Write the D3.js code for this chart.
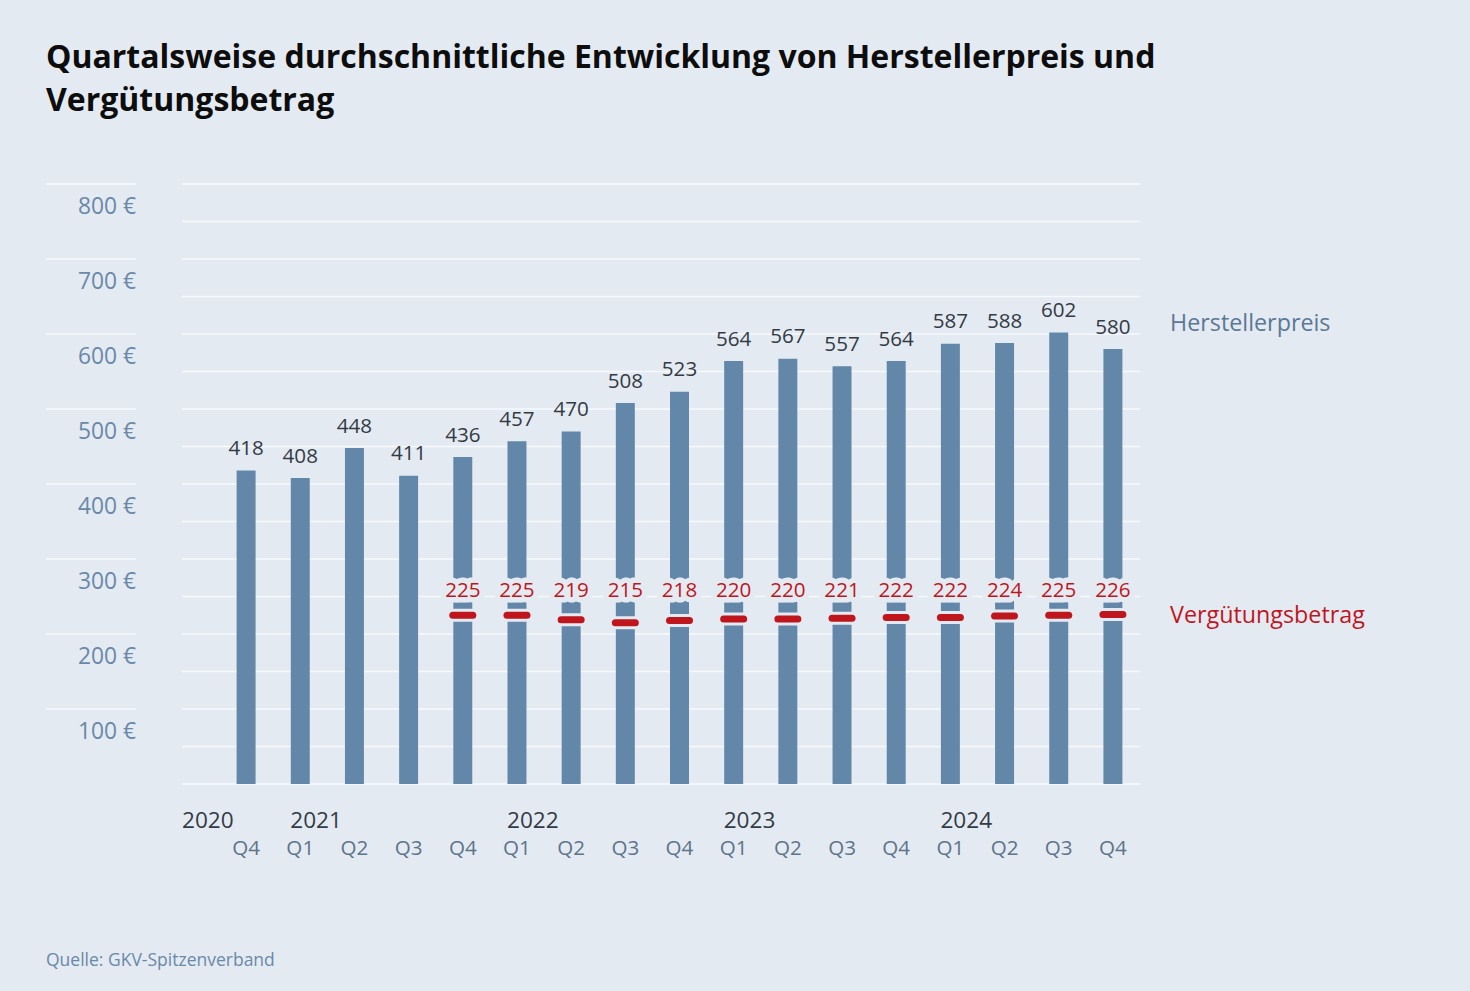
<!DOCTYPE html>
<html>
<head>
<meta charset="utf-8">
<script src="https://cdn.jsdelivr.net/npm/d3@7"></script>
<style>
  html, body { margin: 0; padding: 0; background: #e4eaf2; }
  svg { display: block; font-family: "Open Sans", sans-serif; }
</style>
</head>
<body>
<div id="chart"></div>
<script>
// Data
const quarters = ["Q4", "Q1", "Q2", "Q3", "Q4", "Q1", "Q2", "Q3", "Q4", "Q1", "Q2", "Q3", "Q4", "Q1", "Q2", "Q3", "Q4"];
const years = [["2020", 0], ["2021", 1], ["2022", 5], ["2023", 9], ["2024", 13]];
const herstellerpreis = [418, 408, 448, 411, 436, 457, 470, 508, 523, 564, 567, 557, 564, 587, 588, 602, 580];
const verguetung = [null, null, null, null, 225, 225, 219, 215, 218, 220, 220, 221, 222, 222, 224, 225, 226];
const yTicks = [100, 200, 300, 400, 500, 600, 700, 800];

const width = 1470, height = 991;
const bg = "#e4eaf2";
const barColor = "#6387a8";
const red = "#bf161d";
const axisBlue = "#6a89a8";
const slate = "#5d7489";
const dark = "#333b44";

const svg = d3.select("#chart").append("svg")
    .attr("width", width)
    .attr("height", height);

svg.append("rect").attr("width", width).attr("height", height).attr("fill", bg);

// Title
const title = svg.append("text")
    .attr("x", 46)
    .attr("font-size", "32px")
    .attr("font-weight", 700)
    .attr("fill", "#0d0d0d");
title.append("tspan").attr("x", 46).attr("y", 68).text("Quartalsweise durchschnittliche Entwicklung von Herstellerpreis und");
title.append("tspan").attr("x", 46).attr("y", 111).text("Vergütungsbetrag");

// Scales
const plotLeft = 182, plotRight = 1140;
const y = d3.scaleLinear().domain([0, 800]).range([784, 184]);
const x = d3.scaleBand()
    .domain(d3.range(quarters.length))
    .range([219, plotRight])
    .paddingInner(0.65)
    .paddingOuter(0.325);

// Grid
svg.append("g").selectAll("line")
    .data(d3.range(0, 801, 50))
    .enter().append("line")
    .attr("x1", plotLeft).attr("x2", plotRight)
    .attr("y1", d => y(d)).attr("y2", d => y(d))
    .attr("stroke", "#f7f9fc")
    .attr("stroke-width", 1.5);

// Y labels with short lines on the left
const yl = svg.append("g").selectAll("g")
    .data(yTicks)
    .enter().append("g");
yl.append("line")
    .attr("x1", 46).attr("x2", 136)
    .attr("y1", d => y(d)).attr("y2", d => y(d))
    .attr("stroke", "#f7f9fc")
    .attr("stroke-width", 1.5);
yl.append("text")
    .attr("x", 136)
    .attr("y", d => y(d) + 30)
    .attr("text-anchor", "end")
    .attr("font-size", "22.8px")
    .attr("fill", axisBlue)
    .text(d => `${d} €`);

// Bars
svg.append("g").selectAll("rect")
    .data(herstellerpreis)
    .enter().append("rect")
    .attr("x", (d, i) => x(i))
    .attr("width", x.bandwidth())
    .attr("y", d => y(d))
    .attr("height", d => y(0) - y(d))
    .attr("fill", barColor);

// Bar value labels
svg.append("g").selectAll("text")
    .data(herstellerpreis)
    .enter().append("text")
    .attr("x", (d, i) => x(i) + x.bandwidth() / 2)
    .attr("y", d => y(d) - 15.5)
    .attr("text-anchor", "middle")
    .attr("font-size", "20.6px")
    .attr("fill", dark)
    .text(d => d);

// Vergütungsbetrag markers
const vData = verguetung.map((v, i) => ({ v, i })).filter(d => d.v != null);
const cx = d => x(d.i) + x.bandwidth() / 2;

const marks = svg.append("g");
marks.selectAll(".halo")
    .data(vData)
    .enter().append("line")
    .attr("x1", d => cx(d) - 13).attr("x2", d => cx(d) + 13)
    .attr("y1", d => y(d.v)).attr("y2", d => y(d.v))
    .attr("stroke", bg)
    .attr("stroke-width", 13)
    .attr("stroke-linecap", "round");
marks.selectAll(".dash")
    .data(vData)
    .enter().append("line")
    .attr("x1", d => cx(d) - 10).attr("x2", d => cx(d) + 10)
    .attr("y1", d => y(d.v)).attr("y2", d => y(d.v))
    .attr("stroke", red)
    .attr("stroke-width", 7)
    .attr("stroke-linecap", "round");

const vLabelY = y(d3.max(verguetung)) - 18;
marks.selectAll("text")
    .data(vData)
    .enter().append("text")
    .attr("x", cx)
    .attr("y", vLabelY)
    .attr("text-anchor", "middle")
    .attr("font-size", "20.6px")
    .attr("fill", red)
    .attr("stroke", bg)
    .attr("stroke-width", 11)
    .attr("stroke-linejoin", "round")
    .attr("paint-order", "stroke")
    .text(d => d.v);

// X axis labels
svg.append("g").selectAll("text")
    .data(quarters)
    .enter().append("text")
    .attr("x", (d, i) => x(i) + x.bandwidth() / 2)
    .attr("y", 855)
    .attr("text-anchor", "middle")
    .attr("font-size", "20.6px")
    .attr("fill", slate)
    .text(d => d);

svg.append("g").selectAll("text")
    .data(years)
    .enter().append("text")
    .attr("x", d => d[1] === 0 ? plotLeft : x(d[1]) - 0.5)
    .attr("y", 828)
    .attr("font-size", "22.6px")
    .attr("fill", dark)
    .text(d => d[0]);

// Series labels
svg.append("text")
    .attr("x", 1170)
    .attr("y", y(d3.max(herstellerpreis)) - 1.5)
    .attr("font-size", "23.3px")
    .attr("fill", "#5b7894")
    .text("Herstellerpreis");

svg.append("text")
    .attr("x", 1170)
    .attr("y", y(d3.max(verguetung)) + 8.5)
    .attr("font-size", "23.3px")
    .attr("fill", red)
    .text("Vergütungsbetrag");

// Source
svg.append("text")
    .attr("x", 46)
    .attr("y", 966)
    .attr("font-size", "17.5px")
    .attr("fill", axisBlue)
    .text("Quelle: GKV-Spitzenverband");
</script>
</body>
</html>
